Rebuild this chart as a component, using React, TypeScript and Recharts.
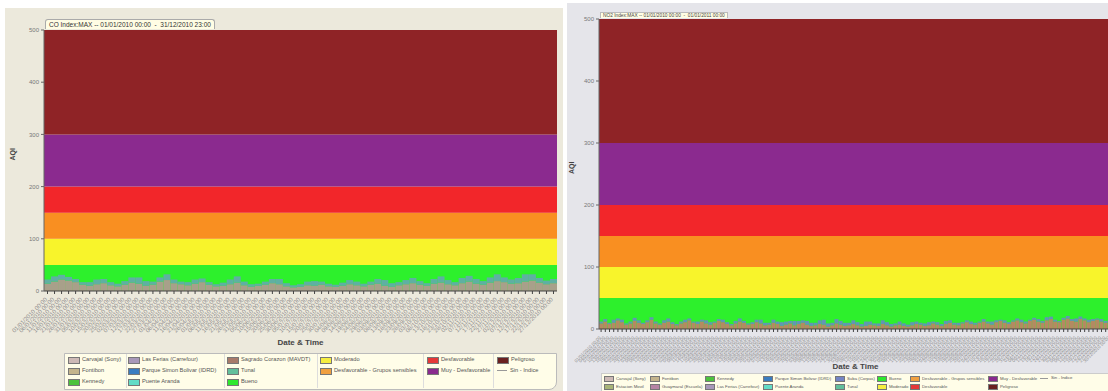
import React from "react"
import { ComposedChart, Bar, XAxis, YAxis, ReferenceArea, Label } from "recharts"

// franjas AQI (de abajo hacia arriba)
const bandLimits = [0, 50, 100, 150, 200, 300, 500]
const bandColors = ["#2df02c", "#f8f42b", "#f98f21", "#f2262a", "#8b2a8f", "#8f2326"]
const yTicks = [0, 100, 200, 300, 400, 500]

// CO: marcas cada 5 dias
const coDias = [
  "01/01", "06/01", "11/01", "16/01", "21/01", "26/01", "31/01", "05/02", "10/02", "15/02",
  "20/02", "25/02", "02/03", "07/03", "12/03", "17/03", "22/03", "27/03", "01/04", "06/04",
  "11/04", "16/04", "21/04", "26/04", "01/05", "06/05", "11/05", "16/05", "21/05", "26/05",
  "31/05", "05/06", "10/06", "15/06", "20/06", "25/06", "30/06", "05/07", "10/07", "15/07",
  "20/07", "25/07", "30/07", "04/08", "09/08", "14/08", "19/08", "24/08", "29/08", "03/09",
  "08/09", "13/09", "18/09", "23/09", "28/09", "03/10", "08/10", "13/10", "18/10", "23/10",
  "28/10", "02/11", "07/11", "12/11", "17/11", "22/11", "27/11", "02/12", "07/12", "12/12",
  "17/12", "22/12", "27/12",
]
const coCarvajal = [
  14, 18, 22, 20, 17, 12, 10, 13, 15, 11,
  9, 12, 16, 14, 10, 12, 18, 21, 15, 13,
  11, 14, 17, 12, 9, 10, 13, 16, 11, 8,
  10, 12, 15, 13, 9, 7, 8, 11, 10, 12,
  9, 8, 10, 13, 11, 9, 12, 14, 10, 8,
  11, 13, 15, 12, 10, 14, 16, 13, 11, 15,
  18, 14, 12, 16, 19, 17, 14, 15, 18, 20,
  16, 13, 15,
]
const coPuente = [
  8, 10, 9, 7, 6, 5, 7, 9, 8, 6,
  5, 7, 10, 12, 9, 6, 8, 11, 7, 5,
  6, 8, 7, 5, 4, 6, 9, 12, 7, 5,
  4, 6, 8, 10, 6, 4, 5, 7, 9, 6,
  5, 4, 6, 8, 7, 5, 6, 9, 11, 7,
  6, 8, 10, 7, 5, 9, 12, 8, 6, 10,
  11, 9, 7, 10, 13, 9, 8, 10, 14, 12,
  9, 7, 8,
]

// NO2: marcas cada 3 dias
const no2Dias = [
  "01/01", "04/01", "07/01", "10/01", "13/01", "16/01", "19/01", "22/01", "25/01", "28/01", "31/01",
  "03/02", "06/02", "09/02", "12/02", "15/02", "18/02", "21/02", "24/02", "27/02",
  "02/03", "05/03", "08/03", "11/03", "14/03", "17/03", "20/03", "23/03", "26/03", "29/03",
  "01/04", "04/04", "07/04", "10/04", "13/04", "16/04", "19/04", "22/04", "25/04", "28/04",
  "01/05", "04/05", "07/05", "10/05", "13/05", "16/05", "19/05", "22/05", "25/05", "28/05", "31/05",
  "03/06", "06/06", "09/06", "12/06", "15/06", "18/06", "21/06", "24/06", "27/06", "30/06",
  "03/07", "06/07", "09/07", "12/07", "15/07", "18/07", "21/07", "24/07", "27/07", "30/07",
  "02/08", "05/08", "08/08", "11/08", "14/08", "17/08", "20/08", "23/08", "26/08", "29/08",
  "01/09", "04/09", "07/09", "10/09", "13/09", "16/09", "19/09", "22/09", "25/09", "28/09",
  "01/10", "04/10", "07/10", "10/10", "13/10", "16/10", "19/10", "22/10", "25/10", "28/10", "31/10",
  "03/11", "06/11", "09/11", "12/11", "15/11", "18/11", "21/11", "24/11", "27/11", "30/11",
  "03/12", "06/12", "09/12", "12/12", "15/12", "18/12", "21/12", "24/12", "27/12", "30/12",
]
const no2Bolivar = [
  9, 12, 8, 10, 14, 11, 7, 9, 13, 10,
  8, 11, 15, 9, 7, 10, 12, 8, 6, 9,
  11, 14, 10, 8, 12, 9, 7, 10, 13, 11,
  8, 6, 9, 12, 10, 7, 8, 11, 9, 6,
  7, 10, 8, 5, 7, 9, 6, 8, 10, 7,
  5, 6, 8, 7, 4, 6, 9, 7, 5, 6,
  8, 6, 4, 5, 7, 6, 5, 8, 6, 4,
  6, 7, 5, 4, 6, 8, 7, 5, 6, 9,
  7, 5, 8, 10, 7, 6, 9, 11, 8, 7,
  10, 12, 9, 7, 11, 13, 10, 8, 12, 14,
  11, 9, 13, 15, 12, 10, 14, 16, 12, 11,
  15, 17, 13, 12, 16, 14, 11, 13, 15, 12,
  10, 13,
]
const no2Kennedy = [
  3, 4, 2, 5, 3, 4, 2, 3, 5, 4,
  2, 3, 4, 3, 2, 4, 5, 3, 2, 3,
  4, 3, 2, 4, 3, 5, 4, 2, 3, 4,
  3, 2, 4, 5, 3, 2, 3, 4, 6, 4,
  3, 5, 4, 6, 5, 4, 7, 5, 4, 6,
  5, 4, 6, 8, 5, 4, 7, 6, 5, 4,
  6, 5, 4, 7, 5, 3, 4, 6, 5, 4,
  3, 5, 4, 3, 5, 4, 3, 4, 5, 3,
  4, 3, 5, 4, 3, 4, 2, 3, 4, 3,
  2, 4, 3, 5, 3, 2, 4, 3, 2, 3,
  4, 3, 2, 3, 4, 3, 5, 4, 3, 2,
  3, 4, 3, 5, 4, 3, 4, 3, 2, 4,
  3, 2,
]

// leyendas (columnas)
const coLegend = [
  ["Carvajal  (Sony)", "Fontibon", "Kennedy"],
  ["Las Ferias (Carrefour)", "Parque Simon Bolivar (IDRD)", "Puente Aranda"],
  ["Sagrado Corazon (MAVDT)", "Tunal", "Bueno"],
  ["Moderado", "Desfavorable - Grupos sensibles"],
  ["Desfavorable", "Muy - Desfavorable"],
  ["Peligroso", "Sin - Indice"],
]
const no2Legend = [
  ["Carvajal  (Sony)", "Estacion Movil"],
  ["Fontibon", "Guaymaral (Escuela)"],
  ["Kennedy", "Las Ferias (Carrefour)"],
  ["Parque Simon Bolivar (IDRD)", "Puente Aranda"],
  ["Suba (Corpas)", "Tunal"],
  ["Bueno", "Moderado"],
  ["Desfavorable - Grupos sensibles", "Desfavorable"],
  ["Muy - Desfavorable", "Peligroso"],
  ["Sin - Indice"],
]

const swatch: Record<string, string> = {
  "Carvajal  (Sony)": "#cdb9b6",
  "Fontibon": "#c4b48c",
  "Kennedy": "#4cc23c",
  "Las Ferias (Carrefour)": "#a898b8",
  "Parque Simon Bolivar (IDRD)": "#3a7cc0",
  "Puente Aranda": "#62dcc6",
  "Sagrado Corazon (MAVDT)": "#a87a6a",
  "Tunal": "#62bf9c",
  "Bueno": "#2ee82e",
  "Moderado": "#f6ee40",
  "Desfavorable - Grupos sensibles": "#f0a040",
  "Desfavorable": "#e53838",
  "Muy - Desfavorable": "#8a2a8e",
  "Peligroso": "#6a2020",
  "Estacion Movil": "#a8b478",
  "Guaymaral (Escuela)": "#b684a4",
  "Suba (Corpas)": "#7484c4",
}

const font = "'Liberation Sans', Arial, sans-serif"

const DiagTick = ({ x, y, payload, fs }: any) => (
  <text
    x={x}
    y={y + 4}
    transform={`rotate(-45 ${x} ${y + 4})`}
    textAnchor="end"
    fontSize={fs}
    fill="#8c8c8c"
    fontFamily={font}
  >
    {payload.value}/2010 00:00
  </text>
)

function AqiChart({ data, width, height, margin, yWidth, xHeight, tickFs, yLabelOffset, series }: any) {
  return (
    <ComposedChart width={width} height={height} data={data} margin={margin} barCategoryGap={0} barGap={0}>
      {bandColors.map((c, i) => (
        <ReferenceArea key={i} y1={bandLimits[i]} y2={bandLimits[i + 1]} fill={c} fillOpacity={1} stroke="none" />
      ))}
      <XAxis
        dataKey="fecha"
        interval={0}
        height={xHeight}
        tickSize={3}
        stroke="#444"
        tick={(p: any) => <DiagTick {...p} fs={tickFs} />}
      >
        <Label value="Date & Time" position="insideBottom" offset={2} fontSize={8} fontWeight="bold" fill="#444" fontFamily={font} />
      </XAxis>
      <YAxis
        domain={[0, 500]}
        ticks={yTicks}
        width={yWidth}
        tickSize={3}
        stroke="#666"
        tick={{ fontSize: 6, fill: "#777", fontFamily: font }}
      >
        <Label value="AQI" angle={-90} position="insideLeft" offset={yLabelOffset} fontSize={7} fontWeight="bold" fill="#444" fontFamily={font} />
      </YAxis>
      {series.map((s: any) => (
        <Bar key={s.key} dataKey={s.key} stackId="st" fill={s.color} isAnimationActive={false} />
      ))}
    </ComposedChart>
  )
}

function Legend({ cols, colX, rowY, fs, sw, sh }: any) {
  return (
    <>
      {cols.map((col: string[], ci: number) =>
        col.map((name, ri) => (
          <div
            key={name}
            style={{
              position: "absolute",
              left: colX[ci],
              top: rowY[ri] - sh / 2 - 1,
              display: "flex",
              alignItems: "center",
              fontSize: fs,
              color: "#555",
              whiteSpace: "nowrap",
              lineHeight: 1,
            }}
          >
            {name === "Sin - Indice" ? (
              <span style={{ width: sw, height: 0, borderTop: "1px solid #999", marginRight: 3 }} />
            ) : (
              <span style={{ width: sw, height: sh, background: swatch[name], border: "1px solid #777", marginRight: 2 }} />
            )}
            {name}
          </div>
        ))
      )}
    </>
  )
}

export default function App() {
  const coData = coDias.map((d, i) => ({ fecha: d, carvajal: coCarvajal[i], puente: coPuente[i] }))
  const no2Data = no2Dias.map((d, i) => ({ fecha: d, bolivar: no2Bolivar[i], kennedy: no2Kennedy[i] }))

  return (
    <div style={{ position: "fixed", left: 0, top: 0, width: 1108, height: 391, background: "#fff", overflow: "hidden", fontFamily: font }}>
      {/* panel CO */}
      <div style={{ position: "absolute", left: 5, top: 8, width: 558, height: 383, background: "#ece9dc" }}>
        <AqiChart
          data={coData}
          width={558}
          height={383}
          margin={{ top: 22, right: 6, left: 0, bottom: 44 }}
          yWidth={39}
          xHeight={56}
          tickFs={6}
          yLabelOffset={8}
          series={[
            { key: "carvajal", color: "#a8a08a" },
            { key: "puente", color: "#5fb0a2" },
          ]}
        />
        <div style={{ position: "absolute", left: 40, top: 11, padding: "1px 3px", fontSize: 6.5, color: "#333", background: "#fffde4", border: "1px solid #aaa", borderBottom: "none", borderRadius: "3px 3px 0 0", whiteSpace: "nowrap" }}>
          CO Index:MAX -- 01/01/2010 00:00&nbsp; - &nbsp;31/12/2010 23:00
        </div>
      </div>
      <div style={{ position: "absolute", left: 64, top: 353, width: 491, height: 35, background: "#fffde8", border: "1px solid #bbb", borderRadius: "0 0 8px 0" }} />
      {[126, 224, 317, 423, 493].map((x) => (
        <div key={x} style={{ position: "absolute", left: x, top: 354, width: 1, height: 34, background: "#ddd" }} />
      ))}
      <Legend cols={coLegend} colX={[68, 128, 227, 320, 427, 497]} rowY={[360, 371, 382]} fs={5.7} sw={10} sh={5} />

      {/* panel NO2 */}
      <div style={{ position: "absolute", left: 567, top: 3, width: 541, height: 388, background: "#e5e5ea", overflow: "hidden" }}>
        <AqiChart
          data={no2Data}
          width={545}
          height={388}
          margin={{ top: 16, right: 0, left: 0, bottom: 20 }}
          yWidth={32}
          xHeight={42}
          tickFs={4.5}
          yLabelOffset={5}
          series={[
            { key: "bolivar", color: "#b48a62" },
            { key: "kennedy", color: "#6296b4" },
          ]}
        />
        <div style={{ position: "absolute", left: 33, top: 9, padding: "0px 2px", fontSize: 4.8, color: "#444", background: "#fffde4", border: "1px solid #bbb", borderBottom: "none", whiteSpace: "nowrap" }}>
          NO2 Index:MAX -- 01/01/2010 00:00&nbsp; - &nbsp;01/01/2011 00:00
        </div>
      </div>
      <div style={{ position: "absolute", left: 601, top: 373, width: 507, height: 18, background: "#fffde8", border: "1px solid #ccc" }} />
      <Legend cols={no2Legend} colX={[604, 650, 705, 763, 835, 877, 910, 988, 1040]} rowY={[379, 387]} fs={4.3} sw={8} sh={4} />
    </div>
  )
}
